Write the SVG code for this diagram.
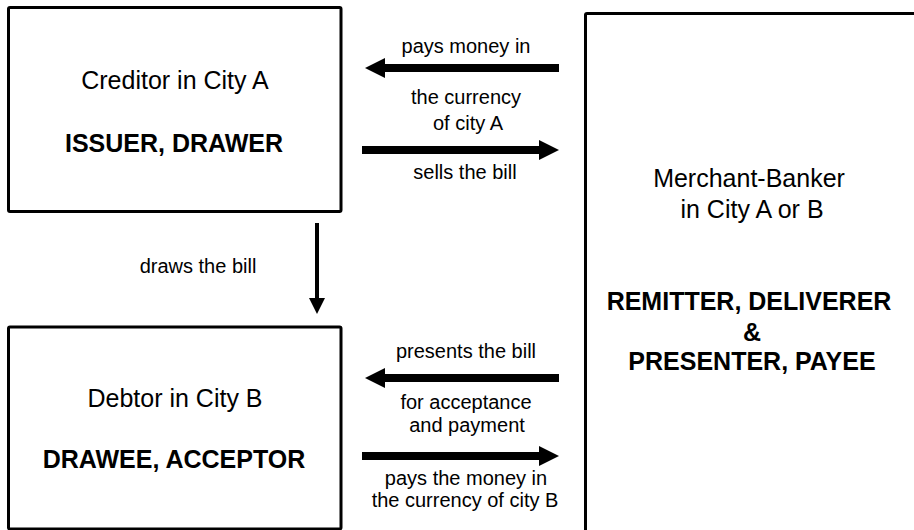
<svg xmlns="http://www.w3.org/2000/svg" width="914" height="530" viewBox="0 0 914 530">
  <style>
    .box { fill: #ffffff; stroke: #000000; stroke-width: 3; }
    .big { font-family: "Liberation Sans", Arial, sans-serif; font-size: 25px; fill: #000; text-anchor: middle; }
    .bold { font-weight: bold; }
    .lbl { font-family: "Liberation Sans", Arial, sans-serif; font-size: 20px; fill: #000; text-anchor: middle; }
    .flow { stroke: #000; stroke-width: 8; fill: none; }
    .draw { stroke: #000; stroke-width: 4; fill: none; }
  </style>
  <defs>
    <marker id="head" markerUnits="userSpaceOnUse" markerWidth="20" markerHeight="20" refX="1" refY="10" orient="auto">
      <path d="M0,0 L20,10 L0,20 z" fill="#000"/>
    </marker>
    <marker id="headSmall" markerUnits="userSpaceOnUse" markerWidth="16" markerHeight="16" refX="1" refY="8" orient="auto">
      <path d="M0,0 L16,8 L0,16 z" fill="#000"/>
    </marker>
  </defs>
  <rect width="914" height="530" fill="#ffffff"/>

  <g id="creditor">
    <rect class="box" x="8.5" y="7.5" width="332.5" height="204" rx="1.5"/>
    <text class="big" x="175" y="89">Creditor in City A</text>
    <text class="big bold" x="174" y="152">ISSUER, DRAWER</text>
  </g>

  <g id="debtor">
    <rect class="box" x="8.5" y="327" width="332.5" height="202" rx="1.5"/>
    <text class="big" x="175" y="407">Debtor in City B</text>
    <text class="big bold" x="174" y="468">DRAWEE, ACCEPTOR</text>
  </g>

  <g id="banker">
    <rect class="box" x="585.5" y="13.5" width="340" height="530" rx="1.5"/>
    <text class="big" x="749" y="187">Merchant-Banker</text>
    <text class="big" x="752" y="218">in City A or B</text>
    <text class="big bold" x="749" y="310">REMITTER, DELIVERER</text>
    <text class="big bold" x="752" y="341">&amp;</text>
    <text class="big bold" x="752" y="370">PRESENTER, PAYEE</text>
  </g>

  <g id="connectors">
    <!-- banker pays creditor -->
    <line class="flow" x1="559" y1="68" x2="384" y2="68" marker-end="url(#head)"/>
    <!-- creditor sells the bill -->
    <line class="flow" x1="362" y1="150" x2="540" y2="150" marker-end="url(#head)"/>
    <!-- banker presents the bill to debtor -->
    <line class="flow" x1="559" y1="378" x2="384" y2="378" marker-end="url(#head)"/>
    <!-- debtor pays the banker -->
    <line class="flow" x1="362" y1="456" x2="540" y2="456" marker-end="url(#head)"/>
    <!-- creditor draws the bill on debtor -->
    <line class="draw" x1="317" y1="223" x2="317" y2="299" marker-end="url(#headSmall)"/>

    <text class="lbl" x="466" y="53">pays money in</text>
    <text class="lbl" x="466" y="104">the currency</text>
    <text class="lbl" x="468" y="130">of city A</text>
    <text class="lbl" x="465" y="179">sells the bill</text>

    <text class="lbl" x="198" y="273">draws the bill</text>

    <text class="lbl" x="466" y="358">presents the bill</text>
    <text class="lbl" x="466" y="409">for acceptance</text>
    <text class="lbl" x="467" y="432">and payment</text>
    <text class="lbl" x="466" y="485">pays the money in</text>
    <text class="lbl" x="465" y="507">the currency of city B</text>
  </g>
</svg>
